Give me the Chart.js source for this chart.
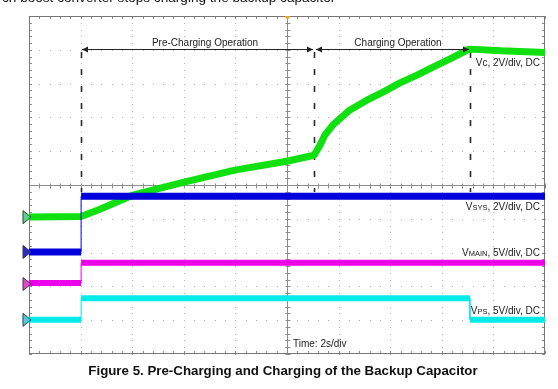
<!DOCTYPE html>
<html>
<head>
<meta charset="utf-8">
<script src="https://cdn.jsdelivr.net/npm/chart.js@4"></script>
<style>
    html, body { margin: 0; padding: 0; background: #fff; }
    #wrap { position: relative; width: 558px; height: 389px; overflow: hidden; font-family: "Liberation Sans", Arial, sans-serif; }
    #scope { position: absolute; left: 0; top: 0; }
    .lead { position: absolute; left: 2px; top: -9px; font-size: 13.6px; line-height: 13px; color: #111; white-space: nowrap; }
    .caption { position: absolute; left: 0; width: 566px; top: 363px; text-align: center; font-size: 13.3px; line-height: 15px; font-weight: bold; color: #111; white-space: nowrap; }
</style>
</head>
<body>
<div id="wrap">
    <canvas id="scope" width="558" height="389"></canvas>
    <div class="lead">ch boost converter stops charging the backup capacitor</div>
    <div class="caption">Figure 5. Pre-Charging and Charging of the Backup Capacitor</div>
</div>
<script>
// time in seconds (2 s/div), levels in screen divisions (0 = centre line)
const vcTime = [0, 2.02, 2.75, 3.99, 6.05, 7.98, 10.04, 11.05, 11.28, 11.47, 11.78, 12.44, 13.1, 13.72, 14.38, 15.04, 15.66, 16.32, 16.98, 17.09, 18.3, 20];
const vcDiv = [-0.95, -0.93, -0.72, -0.31, 0.09, 0.44, 0.71, 0.88, 1.18, 1.48, 1.78, 2.22, 2.51, 2.75, 3.02, 3.25, 3.49, 3.73, 3.99, 4.02, 3.97, 3.92];

const vsysTime = [0, 2.02, 2.02, 20];
const vsysDiv = [-1.98, -1.98, -0.33, -0.33];

const vmainTime = [0, 2.02, 2.02, 20];
const vmainDiv = [-2.9, -2.9, -2.3, -2.3];

const vpsTime = [0, 2.02, 2.02, 17.09, 17.09, 20];
const vpsDiv = [-3.99, -3.99, -3.35, -3.35, -3.99, -3.99];

// ground reference markers for each channel
const refLevels = [-0.95, -1.98, -2.93, -3.99];

// phase boundaries and names
const phaseTimes = [2.02, 11.05, 17.09];
const phaseNames = ['Pre-Charging Operation', 'Charging Operation'];

const chanMain = ['Vc', 'V', 'V', 'V'];
const chanSub = ['', 'SYS', 'MAIN', 'PS'];
const chanRest = [', 2V/div, DC', ', 2V/div, DC', ', 5V/div, DC', ', 5V/div, DC'];
const timeLabel = 'Time: 2s/div';

const traceColors = ['#10e010', '#0000dc', '#ec00ec', '#00eaea'];
const markerColors = ['#52d68c', '#2a2ad0', '#e046d6', '#46cce2'];
const labelRows = [3.61, -0.65, -2.0, -3.73];

const pts = (xs, ys) => xs.map((t, i) => ({ x: t, y: ys[i] }));

function trace(label, data, color, width, order) {
    return {
        label,
        data,
        order,
        showLine: true,
        borderColor: color,
        borderWidth: width,
        borderCapStyle: 'butt',
        borderJoinStyle: 'bevel',
        pointRadius: 0,
        tension: 0,
        segment: {
            borderWidth: (c) => (c.p0.parsed.x === c.p1.parsed.x ? 1 : width),
        },
    };
}

const scopeArt = {
    id: 'scopeArt',
    beforeDatasetsDraw(chart) {
        const { ctx, chartArea: a, scales } = chart;
        const x = scales.x;
        const y = scales.y;
        const X = (v) => Math.round(x.getPixelForValue(v));
        const Y = (v) => Math.round(y.getPixelForValue(v));
        const xMinor = [];
        for (let t = x.min; t <= x.max + 0.001; t += 0.4) xMinor.push(t);
        const yMinor = [];
        for (let v = y.min; v <= y.max + 0.001; v += 0.2) yMinor.push(v);

        ctx.save();
        // dotted graticule
        ctx.fillStyle = '#b0b0b0';
        for (let t = x.min + 2; t < x.max; t += 2) {
            if (Math.abs(t - 10) < 0.01) continue;
            yMinor.forEach((v) => ctx.fillRect(X(t), Y(v), 1, 1));
        }
        for (let v = y.min + 1; v < y.max; v += 1) {
            if (Math.abs(v) < 0.01) continue;
            xMinor.forEach((t) => ctx.fillRect(X(t), Y(v), 1, 1));
        }

        // centre cross and border ticks
        const cx = X(10) + 0.5;
        const cy = Y(0) + 0.5;
        ctx.strokeStyle = '#8c8c8c';
        ctx.lineWidth = 1;
        ctx.beginPath();
        ctx.moveTo(a.left, cy);
        ctx.lineTo(a.right, cy);
        ctx.moveTo(cx, a.top);
        ctx.lineTo(cx, a.bottom);
        xMinor.forEach((t) => {
            const px = X(t) + 0.5;
            ctx.moveTo(px, cy - 2);
            ctx.lineTo(px, cy + 3);
            ctx.moveTo(px, a.top);
            ctx.lineTo(px, a.top + 3);
            ctx.moveTo(px, a.bottom - 3);
            ctx.lineTo(px, a.bottom);
        });
        yMinor.forEach((v) => {
            const py = Y(v) + 0.5;
            ctx.moveTo(cx - 2, py);
            ctx.lineTo(cx + 3, py);
            ctx.moveTo(a.left, py);
            ctx.lineTo(a.left + 3, py);
            ctx.moveTo(a.right - 3, py);
            ctx.lineTo(a.right, py);
        });
        ctx.stroke();
        ctx.strokeStyle = '#777';
        ctx.strokeRect(a.left + 0.5, a.top + 0.5, a.width - 1, a.height - 1);

        // phase boundaries
        const arrowY = Y(4.02);
        ctx.strokeStyle = '#2a2a2a';
        ctx.lineWidth = 1.6;
        ctx.setLineDash([6, 11]);
        phaseTimes.forEach((t) => {
            ctx.beginPath();
            ctx.moveTo(X(t) + 0.5, arrowY + 3);
            ctx.lineTo(X(t) + 0.5, Y(-0.2));
            ctx.stroke();
        });
        ctx.setLineDash([]);

        // trigger marker
        ctx.fillStyle = '#f0a020';
        ctx.beginPath();
        ctx.moveTo(cx - 3, a.top);
        ctx.lineTo(cx + 3, a.top);
        ctx.lineTo(cx, a.top + 4);
        ctx.closePath();
        ctx.fill();
        ctx.restore();
    },
    afterDatasetsDraw(chart) {
        const { ctx, chartArea: a, scales } = chart;
        const x = scales.x;
        const y = scales.y;
        const X = (v) => Math.round(x.getPixelForValue(v));
        const Y = (v) => Math.round(y.getPixelForValue(v));
        ctx.save();

        // arrows
        const ay = Y(4.02) + 0.5;
        ctx.strokeStyle = '#222';
        ctx.fillStyle = '#222';
        ctx.lineWidth = 1;
        const head = (px, dir) => {
            ctx.beginPath();
            ctx.moveTo(px, ay);
            ctx.lineTo(px - dir * 6, ay - 3);
            ctx.lineTo(px - dir * 6, ay + 3);
            ctx.closePath();
            ctx.fill();
        };
        for (let i = 0; i < phaseTimes.length - 1; i++) {
            const p0 = X(phaseTimes[i]) + (i === 0 ? 1 : 2);
            const p1 = X(phaseTimes[i + 1]) - 1;
            ctx.beginPath();
            ctx.moveTo(p0, ay);
            ctx.lineTo(p1, ay);
            ctx.stroke();
            head(p0, -1);
            head(p1, 1);
        }

        ctx.font = '10px "Liberation Sans", Arial, sans-serif';
        ctx.textBaseline = 'middle';
        ctx.textAlign = 'center';
        ctx.fillStyle = '#222';
        ctx.fillText(phaseNames[0], X(6.82), ay - 6);
        ctx.fillText(phaseNames[1], X(14.3), ay - 6);

        // channel labels
        ctx.textAlign = 'left';
        const big = '10px "Liberation Sans", Arial, sans-serif';
        const small = '7.5px "Liberation Sans", Arial, sans-serif';
        chanMain.forEach((m, i) => {
            ctx.font = big;
            const w1 = ctx.measureText(m).width;
            const w3 = ctx.measureText(chanRest[i]).width;
            ctx.font = small;
            const w2 = chanSub[i] ? ctx.measureText(chanSub[i]).width : 0;
            let px = a.right - 5 - (w1 + w2 + w3);
            const py = Y(labelRows[i]);
            ctx.font = big;
            ctx.fillText(m, px, py);
            px += w1;
            if (chanSub[i]) {
                ctx.font = small;
                ctx.fillText(chanSub[i], px, py + 1);
                px += w2;
            }
            ctx.font = big;
            ctx.fillText(chanRest[i], px, py);
        });
        ctx.fillText(timeLabel, X(10) + 6, Y(-4.7));

        // channel ground markers
        refLevels.forEach((v, i) => {
            const py = y.getPixelForValue(v);
            ctx.beginPath();
            ctx.moveTo(a.left - 6, py - 6.5);
            ctx.lineTo(a.left + 2, py);
            ctx.lineTo(a.left - 6, py + 6.5);
            ctx.closePath();
            ctx.fillStyle = markerColors[i];
            ctx.fill();
            ctx.strokeStyle = '#3a3a3a';
            ctx.lineWidth = 1;
            ctx.stroke();
        });
        ctx.restore();
    },
};

new Chart(document.getElementById('scope'), {
    type: 'scatter',
    data: {
        datasets: [
            trace('Vc', pts(vcTime, vcDiv), traceColors[0], 7, 2),
            trace('VSYS', pts(vsysTime, vsysDiv), traceColors[1], 7, 1),
            trace('VMAIN', pts(vmainTime, vmainDiv), traceColors[2], 6, 3),
            trace('VPS', pts(vpsTime, vpsDiv), traceColors[3], 6, 4),
        ],
    },
    options: {
        responsive: false,
        animation: false,
        layout: { padding: { left: 29, top: 16, right: 13, bottom: 35 } },
        plugins: { legend: { display: false }, tooltip: { enabled: false } },
        scales: {
            x: { type: 'linear', min: 0, max: 20, display: false },
            y: { type: 'linear', min: -5, max: 5, display: false },
        },
    },
    plugins: [scopeArt],
});
</script>
</body>
</html>
